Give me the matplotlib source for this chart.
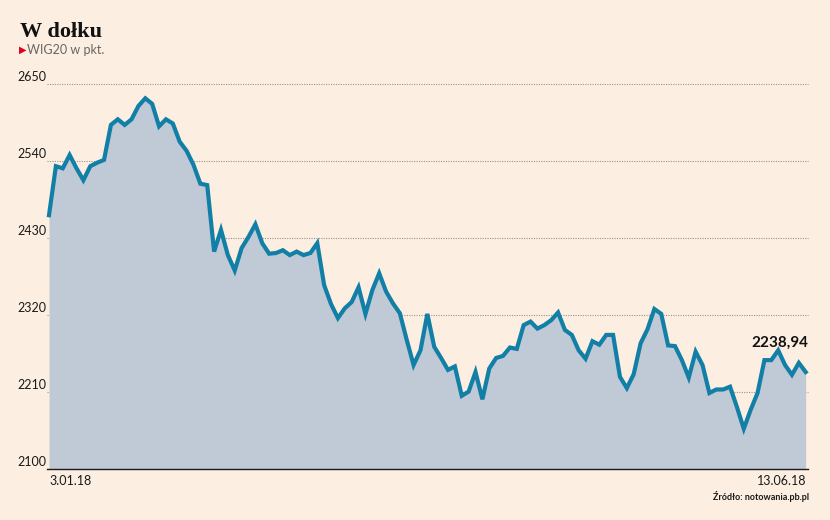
import matplotlib
matplotlib.use("Agg")
import matplotlib.pyplot as plt
from matplotlib.transforms import blended_transform_factory

# WIG20 closing values, 3.01.18 - 13.06.18
values = [
    2463, 2533, 2530, 2549, 2530, 2513, 2533, 2538, 2542, 2592,
    2600, 2592, 2600, 2619, 2630, 2622, 2590, 2600, 2594, 2568,
    2555, 2535, 2508, 2506, 2411, 2442, 2406, 2384, 2416, 2432,
    2450, 2423, 2408, 2409, 2413, 2406, 2411, 2406, 2409, 2423,
    2363, 2336, 2316, 2330, 2339, 2360, 2322, 2356, 2380, 2354,
    2337, 2323, 2285, 2249, 2270, 2322, 2275, 2259, 2242, 2247,
    2205, 2211, 2239, 2200, 2244, 2259, 2262, 2274, 2272, 2306,
    2311, 2301, 2306, 2313, 2324, 2299, 2292, 2270, 2258, 2283,
    2278, 2292, 2292, 2232, 2216, 2236, 2280, 2300, 2329, 2322,
    2277, 2276, 2256, 2231, 2268, 2249, 2209, 2214, 2214, 2218,
    2189, 2158, 2185, 2209, 2256, 2256, 2270, 2249, 2235, 2252,
    2238.94,
]
yticks = [2100, 2210, 2320, 2430, 2540, 2650]
first_date = "3.01.18"
last_date = "13.06.18"
last_label = "2238,94"

bg = "#fcefe2"
line_col = "#127fa6"
fill_col = "#c0c9d6"
W, H = 830, 520


def px(x, y):
    return x / W, 1 - y / H


fig = plt.figure(figsize=(8.3, 5.2), dpi=100, facecolor=bg)
left, right = 49, 805.7
top, bottom = 84.3, 469.3
ax = fig.add_axes([left / W, 1 - bottom / H, (right - left) / W, (bottom - top) / H])
ax.set_facecolor(bg)

x = list(range(len(values)))
ax.set_xlim(0, len(values) - 1)
ax.set_ylim(yticks[0], yticks[-1])

# tick labels sit left of the plot, x in figure coords, y in data
lab_tr = blended_transform_factory(fig.transFigure, ax.transData)
for t in yticks:
    if t != yticks[0]:
        ax.axhline(t, xmin=-0.003, xmax=1.003, color="#9a938c", lw=0.8,
                   ls=(0, (1, 1.2)), clip_on=False, zorder=1)
    ax.text(17 / W, t + 2, str(t), fontsize=9, family="Lato", color="#1a1a1a",
            ha="left", va="bottom", transform=lab_tr, clip_on=False)

ax.fill_between(x, values, yticks[0], color=fill_col, lw=0, zorder=2)
ax.plot(x, values, color=line_col, lw=3, solid_joinstyle="miter", zorder=3, clip_on=False)
ax.axhline(yticks[0], xmin=-0.003, xmax=1.003, color="#1a1a1a", lw=1, clip_on=False, zorder=4)

for s in ax.spines.values():
    s.set_visible(False)
ax.set_xticks([])
ax.set_yticks([])

ax.text(x[-1] + 0.4, 2281, last_label, fontsize=11, family="Lato", weight="bold",
        color="#111111", ha="right", va="center")

fig.text(*px(20, 37), "W dołku", fontsize=16, family="Liberation Serif",
         weight="bold", color="#111111", ha="left", va="baseline")
fig.text(*px(19, 50), "▶", fontsize=7, family="DejaVu Sans", color="#e2001a",
         ha="left", va="center")
fig.text(*px(27, 50), "WIG20 w pkt.", fontsize=9, family="Lato", color="#666666",
         ha="left", va="center")

fig.text(*px(49, 481), first_date, fontsize=9, family="Lato", color="#1a1a1a",
         ha="left", va="center")
fig.text(*px(806, 481), last_date, fontsize=9, family="Lato", color="#1a1a1a",
         ha="right", va="center")
fig.text(*px(809, 497), "Źródło: notowania.pb.pl", fontsize=6.5, family="Lato",
         weight="bold", color="#1a1a1a", ha="right", va="center")

fig.savefig("out.png", dpi=100, facecolor=bg)
